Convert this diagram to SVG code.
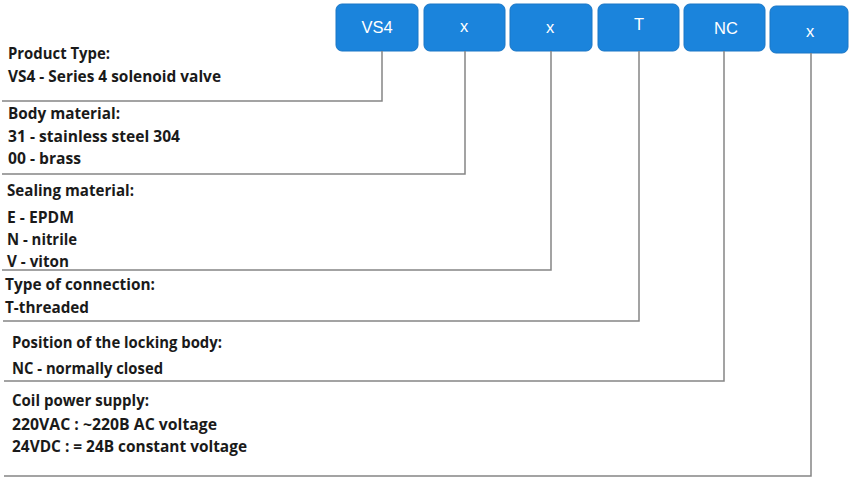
<svg xmlns="http://www.w3.org/2000/svg" width="849" height="477" viewBox="0 0 849 477">
<style>
.box{fill:#1b84dc;stroke:#1a76c6;stroke-width:1}
.bt{font-family:"Liberation Sans",Arial,sans-serif;font-size:16.5px;fill:#ffffff;text-anchor:middle}
.t{font-family:"Open Sans","Liberation Sans",sans-serif;font-weight:700;font-size:15.5px;fill:#1a1a1a}
.ln{fill:none;stroke:#858585;stroke-width:1.5}
</style>
<rect width="849" height="477" fill="#ffffff"/>
<g id="code">
<g id="box-vs4"><rect class="box" x="336" y="4" width="82" height="47" rx="6"/><text class="bt" x="377" y="33">VS4</text></g>
<g id="box-body"><rect class="box" x="424" y="4" width="81" height="47" rx="6"/><text class="bt" x="464" y="32">x</text></g>
<g id="box-seal"><rect class="box" x="510" y="4" width="82" height="47" rx="6"/><text class="bt" x="550" y="33">x</text></g>
<g id="box-conn"><rect class="box" x="598" y="4" width="81" height="47" rx="6"/><text class="bt" x="639" y="30">T</text></g>
<g id="box-pos"><rect class="box" x="684" y="4" width="81" height="47" rx="6"/><text class="bt" x="726" y="34">NC</text></g>
<g id="box-coil"><rect class="box" x="770" y="6" width="78" height="47" rx="6"/><text class="bt" x="810" y="37">x</text></g>
</g>
<g id="connectors">
<path class="ln" d="M382 51 V101 H2"/>
<path class="ln" d="M465 51 V174 H2"/>
<path class="ln" d="M551 51 V270 H2"/>
<path class="ln" d="M639 51 V321 H3"/>
<path class="ln" d="M724 51 V381 H4"/>
<path class="ln" d="M811 53 V476 H4"/>
</g>
<g id="product-type">
<text class="t" x="8" y="59" textLength="102" lengthAdjust="spacingAndGlyphs">Product Type:</text>
<text class="t" x="8" y="82" textLength="213" lengthAdjust="spacingAndGlyphs">VS4 - Series 4 solenoid valve</text>
</g>
<g id="body-material">
<text class="t" x="8" y="119" textLength="112" lengthAdjust="spacingAndGlyphs">Body material:</text>
<text class="t" x="8" y="142" textLength="172" lengthAdjust="spacingAndGlyphs">31 - stainless steel 304</text>
<text class="t" x="8" y="164" textLength="73" lengthAdjust="spacingAndGlyphs">00 - brass</text>
</g>
<g id="sealing-material">
<text class="t" x="7" y="196" textLength="127" lengthAdjust="spacingAndGlyphs">Sealing material:</text>
<text class="t" x="7" y="223" textLength="67" lengthAdjust="spacingAndGlyphs">E - EPDM</text>
<text class="t" x="7" y="245" textLength="70" lengthAdjust="spacingAndGlyphs">N - nitrile</text>
<text class="t" x="7" y="267" textLength="62" lengthAdjust="spacingAndGlyphs">V - viton</text>
</g>
<g id="connection-type">
<text class="t" x="5" y="290" textLength="150" lengthAdjust="spacingAndGlyphs">Type of connection:</text>
<text class="t" x="5" y="313" textLength="84" lengthAdjust="spacingAndGlyphs">T-threaded</text>
</g>
<g id="locking-position">
<text class="t" x="12" y="348" textLength="210" lengthAdjust="spacingAndGlyphs">Position of the locking body:</text>
<text class="t" x="12" y="374" textLength="151" lengthAdjust="spacingAndGlyphs">NC - normally closed</text>
</g>
<g id="coil-power">
<text class="t" x="12" y="406" textLength="137" lengthAdjust="spacingAndGlyphs">Coil power supply:</text>
<text class="t" x="12" y="430" textLength="205" lengthAdjust="spacingAndGlyphs">220VAC : ~220B AC voltage</text>
<text class="t" x="12" y="452" textLength="235" lengthAdjust="spacingAndGlyphs">24VDC : = 24B constant voltage</text>
</g>
</svg>
